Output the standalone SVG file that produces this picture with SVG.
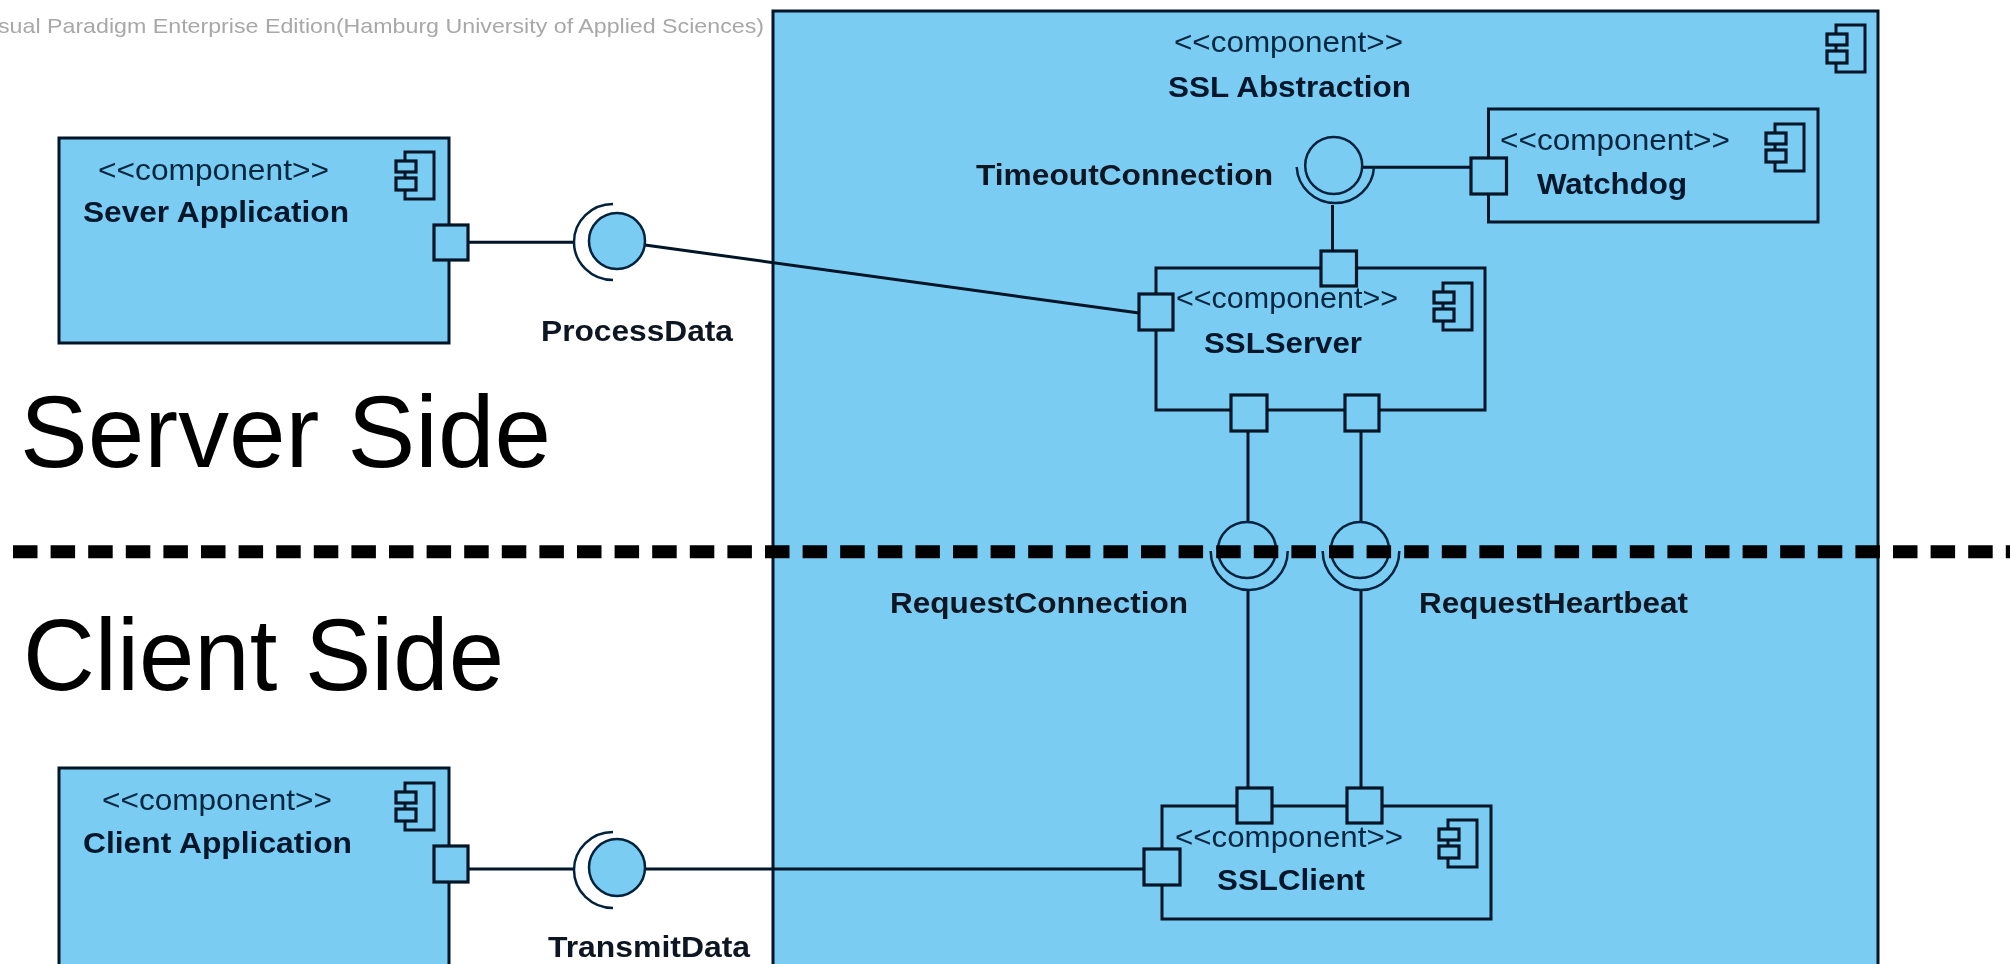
<svg xmlns="http://www.w3.org/2000/svg" width="2010" height="964" viewBox="0 0 2010 964">
<style>
.box{fill:#7accf3;stroke:#001428;stroke-width:3}
.port{fill:#7accf3;stroke:#001428;stroke-width:3.2}
.ln{fill:none;stroke:#001428;stroke-width:3}
.thin{fill:none;stroke:#00233c;stroke-width:2.5}
.ball{fill:#7accf3;stroke:#00233c;stroke-width:2.5}
.st{font:30px "Liberation Sans",Arial,sans-serif;fill:#00263f}
.nm{font:bold 29px "Liberation Sans",Arial,sans-serif;fill:#00182c}
.lb{font:bold 29px "Liberation Sans",Arial,sans-serif;fill:#101820}
.big{font:102px "Liberation Sans",Arial,sans-serif;fill:#000}
.wm{font:21px "Liberation Sans",Arial,sans-serif;fill:#a8a8a8}
</style>
<defs>
<filter id="soft" x="0" y="0" width="2010" height="964" filterUnits="userSpaceOnUse"><feGaussianBlur stdDeviation="0.7"/></filter>
<g id="icon">
<rect class="ln" x="9" y="0" width="29" height="47" style="fill:#7accf3"/>
<rect class="port" x="0" y="9" width="20" height="11"/>
<rect class="port" x="0" y="26" width="20" height="12"/>
</g>
</defs>
<rect width="2010" height="964" fill="#fff"/>
<g filter="url(#soft)">
<text class="wm" x="-2" y="33" textLength="766" lengthAdjust="spacingAndGlyphs">sual Paradigm Enterprise Edition(Hamburg University of Applied Sciences)</text>
<g id="ssl-abstraction">
<rect class="box" x="773" y="11" width="1105" height="960"/>
<use href="#icon" x="1827" y="25"/>
<text class="st" x="1174" y="52" textLength="229" lengthAdjust="spacingAndGlyphs">&lt;&lt;component&gt;&gt;</text>
<text class="nm" x="1168" y="97" textLength="243" lengthAdjust="spacingAndGlyphs">SSL Abstraction</text>
</g>
<g id="server-application">
<rect class="box" x="59" y="138" width="390" height="205"/>
<use href="#icon" x="396" y="152"/>
<text class="st" x="98" y="180" textLength="231" lengthAdjust="spacingAndGlyphs">&lt;&lt;component&gt;&gt;</text>
<text class="nm" x="83" y="222" textLength="266" lengthAdjust="spacingAndGlyphs">Sever Application</text>
</g>
<g id="client-application">
<rect class="box" x="59" y="768" width="390" height="210"/>
<use href="#icon" x="396" y="783"/>
<text class="st" x="102" y="810" textLength="230" lengthAdjust="spacingAndGlyphs">&lt;&lt;component&gt;&gt;</text>
<text class="nm" x="83" y="853" textLength="269" lengthAdjust="spacingAndGlyphs">Client Application</text>
</g>
<g id="watchdog">
<rect class="box" x="1488.500" y="109" width="329.500" height="113"/>
<use href="#icon" x="1766" y="124"/>
<text class="st" x="1500" y="150" textLength="230" lengthAdjust="spacingAndGlyphs">&lt;&lt;component&gt;&gt;</text>
<text class="nm" x="1537" y="194" textLength="150" lengthAdjust="spacingAndGlyphs">Watchdog</text>
</g>
<g id="ssl-server">
<rect class="box" x="1156" y="268" width="329" height="142"/>
<use href="#icon" x="1434" y="283"/>
<text class="st" x="1176" y="308" textLength="222" lengthAdjust="spacingAndGlyphs">&lt;&lt;component&gt;&gt;</text>
<text class="nm" x="1204" y="353" textLength="158" lengthAdjust="spacingAndGlyphs">SSLServer</text>
</g>
<g id="ssl-client">
<rect class="box" x="1162" y="806" width="329" height="113"/>
<use href="#icon" x="1439" y="820"/>
<text class="st" x="1175" y="847" textLength="228" lengthAdjust="spacingAndGlyphs">&lt;&lt;component&gt;&gt;</text>
<text class="nm" x="1217" y="890" textLength="148" lengthAdjust="spacingAndGlyphs">SSLClient</text>
</g>
<g id="connectors">
<path class="ln" d="M468 242.300H574"/>
<path class="ln" d="M645 245L1139 313"/>
<path class="ln" d="M468 869H575"/>
<path class="ln" d="M645 869H1144"/>
<path class="ln" d="M1362 167.300H1470"/>
<path class="ln" d="M1332.500 205V251"/>
<path class="ln" d="M1248 431V522"/>
<path class="ln" d="M1361 431V522"/>
<path class="ln" d="M1248 590V788"/>
<path class="ln" d="M1361 590V788"/>
</g>
<g id="ports">
<rect class="port" x="434" y="225" width="34" height="35"/>
<rect class="port" x="434" y="846" width="34" height="36"/>
<rect class="port" x="1471" y="158" width="35.500" height="36"/>
<rect class="port" x="1321" y="251" width="35.500" height="35"/>
<rect class="port" x="1139" y="294" width="34" height="36"/>
<rect class="port" x="1231" y="395" width="36" height="36"/>
<rect class="port" x="1345" y="395" width="34" height="36"/>
<rect class="port" x="1237" y="788" width="35" height="35"/>
<rect class="port" x="1347" y="788" width="35" height="35"/>
<rect class="port" x="1144" y="849" width="36" height="36"/>
</g>
<g id="process-data">
<path class="thin" d="M613 204A39 38 0 0 0 613 280"/>
<ellipse class="ball" cx="617" cy="241" rx="28" ry="28"/>
<text class="lb" x="541" y="341" textLength="192" lengthAdjust="spacingAndGlyphs">ProcessData</text>
</g>
<g id="transmit-data">
<path class="thin" d="M613 832A39 38 0 0 0 613 908"/>
<ellipse class="ball" cx="617" cy="867.500" rx="28" ry="28.500"/>
<text class="lb" x="548" y="957" textLength="202" lengthAdjust="spacingAndGlyphs">TransmitData</text>
</g>
<g id="timeout-connection">
<path class="thin" d="M1296.700 167A38.700 38 0 0 0 1374 167"/>
<ellipse class="thin" cx="1333.700" cy="165.500" rx="28.500" ry="28.500"/>
<text class="lb" x="976" y="185" textLength="297" lengthAdjust="spacingAndGlyphs">TimeoutConnection</text>
</g>
<g id="request-connection">
<path class="thin" d="M1210.700 551A38.500 39 0 0 0 1287.700 551"/>
<ellipse class="thin" cx="1247" cy="550" rx="29" ry="28"/>
<text class="lb" x="890" y="613" textLength="298" lengthAdjust="spacingAndGlyphs">RequestConnection</text>
</g>
<g id="request-heartbeat">
<path class="thin" d="M1322.700 551A38.300 39 0 0 0 1399.300 551"/>
<ellipse class="thin" cx="1360" cy="550" rx="29" ry="28"/>
<text class="lb" x="1419" y="613" textLength="269" lengthAdjust="spacingAndGlyphs">RequestHeartbeat</text>
</g>
<text class="big" x="20" y="467" textLength="531" lengthAdjust="spacingAndGlyphs">Server Side</text>
<text class="big" x="23" y="690" textLength="481" lengthAdjust="spacingAndGlyphs">Client Side</text>
<path d="M13 551.700H2010" fill="none" stroke="#000" stroke-width="13" stroke-dasharray="24.500 13.100"/>
</g>
</svg>
